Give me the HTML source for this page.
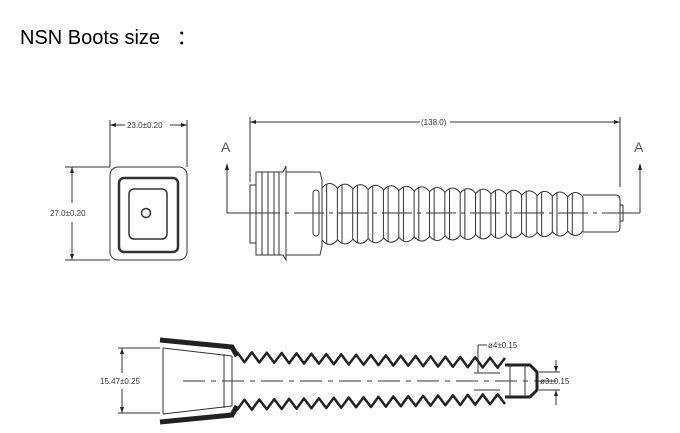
<!DOCTYPE html>
<html><head><meta charset="utf-8"><style>
body{margin:0;background:#fff;width:680px;height:433px;overflow:hidden}
svg{display:block}
text{font-family:"Liberation Sans",sans-serif;fill:#333}
</style></head><body>
<svg id="s" width="680" height="433" viewBox="0 0 680 433" xmlns="http://www.w3.org/2000/svg">
<text x="20" y="44" font-size="20" style="fill:#000">NSN Boots size &#160;&#160;<tspan font-family="Noto Sans CJK SC">：</tspan></text>
<g stroke="#333" fill="none" stroke-width="1">
<rect x="110" y="167" width="77" height="93" rx="8"/>
<rect x="119" y="178" width="59" height="74" rx="5" stroke-width="2.5"/>
<rect x="129" y="189" width="38" height="50" rx="5" stroke-width="1.5"/>
<circle cx="146" cy="213" r="4.5" stroke-width="1.5"/>
<line x1="110" y1="120" x2="110" y2="167"/><line x1="187" y1="120" x2="187" y2="167"/>
<line x1="110" y1="125" x2="125" y2="125"/><line x1="170" y1="125" x2="187" y2="125"/>
<line x1="65" y1="167" x2="110" y2="167"/><line x1="65" y1="260" x2="110" y2="260"/>
<line x1="72" y1="167" x2="72" y2="203"/><line x1="72" y1="222" x2="72" y2="260"/>
<line x1="250" y1="117" x2="250" y2="182"/><line x1="620" y1="117" x2="620" y2="187"/>
<line x1="250" y1="122" x2="420" y2="122"/><line x1="450" y1="122" x2="620" y2="122"/>
<line x1="227" y1="170" x2="227" y2="213"/><line x1="640" y1="170" x2="640" y2="213"/>
<line x1="227" y1="213" x2="250" y2="213"/><line x1="622" y1="213" x2="640" y2="213"/>
<line x1="250" y1="213" x2="622" y2="213" stroke-dasharray="30,5,4,5"/>
<rect x="250" y="185" width="6" height="58"/>
<path d="M256 172 L283 172 L286 166 L286 260 L283 255 L256 255 Z"/>
<line x1="262" y1="172" x2="262" y2="255"/><line x1="268" y1="172" x2="268" y2="255"/><line x1="274" y1="172" x2="274" y2="255"/><line x1="279" y1="172" x2="279" y2="255"/>
<path d="M286 172 L320 172 L322 180 L322 246 L320 255 L286 255"/>
<rect x="313" y="190" width="6" height="46" rx="3"/>
<g id="ribs"></g>
<path d="M583 195 L616 195 Q620 195 620 200 L620 227 Q620 232 616 232 L583 232"/>
<rect x="620" y="205" width="3" height="16"/>
<line x1="183" y1="381" x2="560" y2="381" stroke-dasharray="22,6,5,6"/>
<path id="sec" stroke-width="2.5" stroke="#222" stroke-linejoin="round"/>
<path d="M160 340 L232 347 L237 356 M160 422 L232 415 L237 406" stroke-width="5" stroke="#222"/>
<line x1="163" y1="348" x2="163" y2="414"/><line x1="163" y1="348" x2="232" y2="356"/><line x1="163" y1="414" x2="232" y2="406"/>
<line x1="224" y1="354" x2="224" y2="408"/><line x1="232" y1="356" x2="232" y2="406"/>
<line x1="118" y1="348" x2="160" y2="348"/><line x1="118" y1="413" x2="160" y2="413"/>
<line x1="122" y1="348" x2="122" y2="373"/><line x1="122" y1="389" x2="122" y2="413"/>
<path d="M505 365 L530 365 L537 372 L537 390 L530 397 L505 397" stroke-width="3" stroke="#222"/>
<line x1="510" y1="365" x2="510" y2="397"/><line x1="525" y1="365" x2="525" y2="397"/>
<line x1="478" y1="345" x2="478" y2="373"/><line x1="478" y1="345" x2="487" y2="345"/>
<line x1="474" y1="373" x2="500" y2="373"/><line x1="474" y1="390" x2="500" y2="390"/>
<line x1="539" y1="372" x2="560" y2="372"/><line x1="539" y1="390" x2="560" y2="390"/>
<line x1="556" y1="360" x2="556" y2="372"/><line x1="556" y1="390" x2="556" y2="405"/>
</g>
<g fill="#222">
<path d="M110 125 l6 -2 v4z M187 125 l-6 -2 v4z M72 167 l-2 6 h4z M72 260 l-2 -6 h4z M250 122 l6 -2 v4z M620 122 l-6 -2 v4z M227 163 l-2 7 h4z M640 163 l-2 7 h4z M122 348 l-2 6 h4z M122 413 l-2 -6 h4z M556 372 l-2 -6 h4z M556 390 l-2 6 h4z"/>
</g>
<text x="127" y="128" font-size="8">23.0±0.20</text>
<text x="50" y="216" font-size="8">27.0±0.20</text>
<text x="421" y="125" font-size="8">(138.0)</text>
<text x="221" y="152" font-size="14" style="fill:#555">A</text>
<text x="634" y="152" font-size="14" style="fill:#555">A</text>
<text x="100" y="384" font-size="8">15.47±0.25</text>
<text x="488" y="348" font-size="8">ø4±0.15</text>
<text x="540" y="384" font-size="8">ø3±0.15</text>
<text x="282" y="439" font-size="8">SECTION A-A</text>
</svg>
<script>
(function(){
var r='',n=17,x0=322,x1=583,w=(x1-x0)/n;
for(var i=0;i<n;i++){var t=i/(n-1),x=x0+i*w,yt=183+t*9,yb=245-t*9;
r+='<path d="M'+x+' '+(yt+5)+' Q'+(x+w/2)+' '+(yt-4)+' '+(x+w)+' '+(yt+5)+' M'+x+' '+(yb-5)+' Q'+(x+w/2)+' '+(yb+4)+' '+(x+w)+' '+(yb-5)+'"/>';
r+='<line x1="'+(x+w/2-3)+'" y1="'+(yt+1)+'" x2="'+(x+w/2-3)+'" y2="'+(yb-1)+'"/><line x1="'+(x+w)+'" y1="'+(yt+5)+'" x2="'+(x+w)+'" y2="'+(yb-5)+'"/>';}
document.getElementById('ribs').innerHTML=r;
var m=18,a=237,b=505,s=(b-a)/m,pt='',pb='';
for(var k=0;k<=m*2;k++){var xx=a+k*s/2,tt=(xx-a)/(b-a),c=357+tt*6,yy=c+(k%2?5:-5);
pt+=(k?'L':'M')+xx.toFixed(1)+' '+yy.toFixed(1)+' ';pb+=(k?'L':'M')+xx.toFixed(1)+' '+(762-yy).toFixed(1)+' ';}
document.getElementById('sec').setAttribute('d',pt+pb);
})();
</script>
</body></html>
